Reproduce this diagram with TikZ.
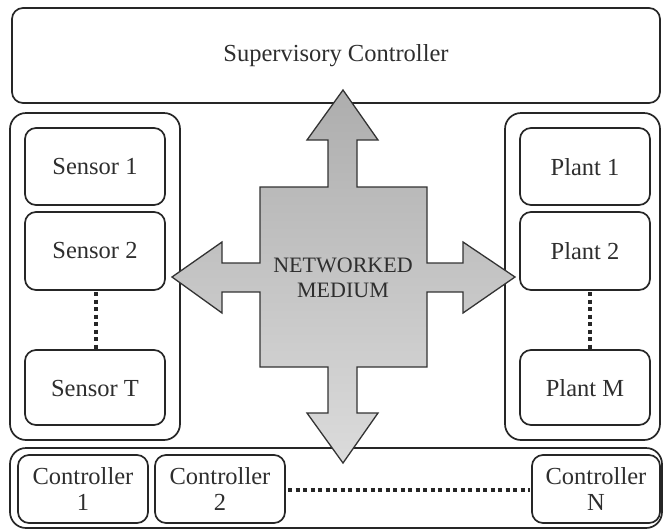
\documentclass[tikz,border=0pt]{standalone}
\usepackage{fontspec}
\setmainfont{Liberation Serif}
\begin{document}
\begin{tikzpicture}[x=1pt,y=-1pt,
  txt/.style={font=\fontsize{24.5}{26}\selectfont, text=black!82},
  box/.style={draw=black!85, line width=1.7pt, rounded corners=11pt},
  panel/.style={draw=black!85, line width=1.7pt, rounded corners=16pt},
  dots/.style={line width=4pt, dash pattern=on 4pt off 3.5pt, black!85},
  cross/.style={draw=black!80, line width=1.3pt, top color=black!32, bottom color=black!14}]
\useasboundingbox (0,0) rectangle (664,531);

% supervisory level
\draw[box] (12,8) rectangle (660,103);
\node[txt] (sup) at (336,56) {Supervisory Controller};

% sensor column
\draw[panel] (10,113) rectangle (180,440);
\draw[box] (25,128) rectangle (165,205);
\draw[box] (25,212) rectangle (165,290);
\draw[box] (25,350) rectangle (165,425);
\node[txt] (s1) at (95,167) {Sensor 1};
\node[txt] (s2) at (95,251) {Sensor 2};
\node[txt] (sT) at (95,388) {Sensor T};
\coordinate (s2b) at (96,292);
\coordinate (sTt) at (96,350);
\draw[dots] (s2b) -- (sTt);

% plant column
\draw[panel] (505,113) rectangle (660,440);
\draw[box] (520,128) rectangle (650,205);
\draw[box] (520,212) rectangle (650,290);
\draw[box] (520,350) rectangle (650,425);
\node[txt] (p1) at (585,167) {Plant 1};
\node[txt] (p2) at (585,251) {Plant 2};
\node[txt] (pM) at (585,388) {Plant M};
\coordinate (p2b) at (590,292);
\coordinate (pMt) at (590,350);
\draw[dots] (p2b) -- (pMt);

% controller row
\draw[panel] (10,448) rectangle (662,528);
\draw[box] (18,455) rectangle (148,523);
\draw[box] (155,455) rectangle (285,523);
\draw[box] (532,455) rectangle (660,523);
\node[txt, align=center] (c1) at (83,489) {Controller\\1};
\node[txt, align=center] (c2) at (220,489) {Controller\\2};
\node[txt, align=center] (cN) at (596,489) {Controller\\N};
\coordinate (c2r) at (288,490);
\coordinate (cNl) at (530,490);
\draw[dots] (c2r) -- (cNl);

% networked medium with four arrows
\draw[cross] (260,187) -- (328,187) -- (328,140) -- (307,140) -- (343,90) -- (378,140) -- (357,140) -- (357,187)
  -- (427,187) -- (427,263) -- (463,263) -- (463,242) -- (515,277) -- (463,313) -- (463,292) -- (427,292)
  -- (427,367) -- (357,367) -- (357,413) -- (378,413) -- (343,463) -- (307,413) -- (328,413) -- (328,367)
  -- (260,367) -- (260,292) -- (222,292) -- (222,313) -- (172,277) -- (222,242) -- (222,263) -- (260,263)
  -- cycle;
\node[txt, align=center, font=\fontsize{22}{25}\selectfont] (net) at (343,278) {NETWORKED\\MEDIUM};
\end{tikzpicture}
\end{document}
